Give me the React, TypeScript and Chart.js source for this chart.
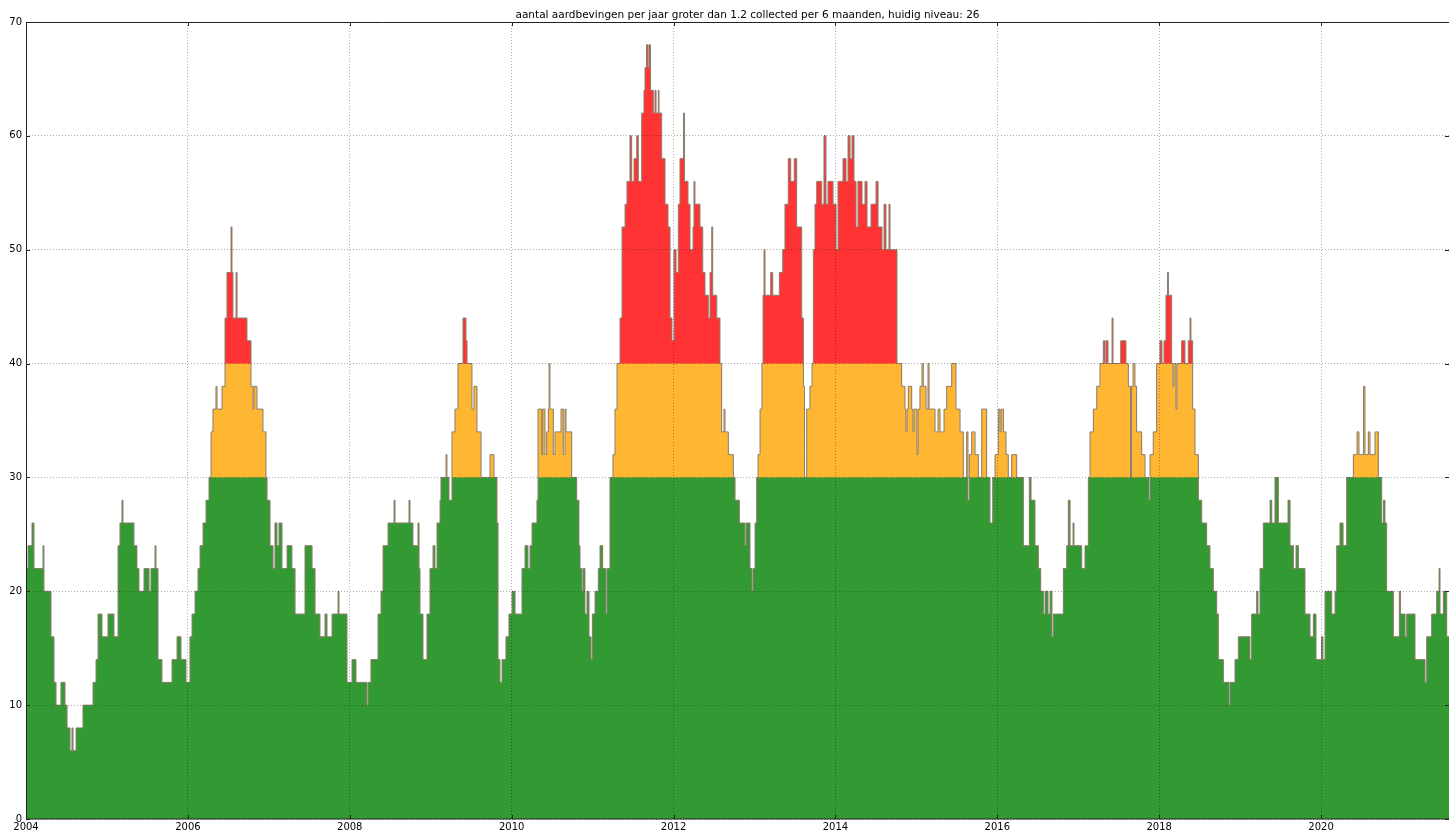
import React, { useEffect, useRef } from 'react';
import { Chart, registerables } from 'chart.js';

Chart.register(...registerables);

const TITLE = 'aantal aardbevingen per jaar groter dan 1.2 collected per 6 maanden, huidig niveau: 26';
const X_MIN = 2004;
const X_MAX = 2021.581;
const Y_MIN = 0;
const Y_MAX = 70;
const xTickValues = [2004, 2006, 2008, 2010, 2012, 2014, 2016, 2018, 2020];
const yTickValues = [0, 10, 20, 30, 40, 50, 60, 70];
const ORANGE_FROM = 30;
const RED_FROM = 40;

// step start dates (decimal years) and counts per year, 2004 - 2007
const datesA = [
  2004.000, 2004.025, 2004.074, 2004.099, 2004.210, 2004.222, 2004.309, 2004.346, 2004.371, 2004.432,
  2004.482, 2004.507, 2004.544, 2004.568, 2004.581, 2004.618, 2004.704, 2004.828, 2004.865, 2004.890,
  2004.939, 2005.013, 2005.087, 2005.137, 2005.161, 2005.186, 2005.198, 2005.334, 2005.371, 2005.396,
  2005.458, 2005.520, 2005.544, 2005.594, 2005.606, 2005.631, 2005.680, 2005.804, 2005.866, 2005.915,
  2005.977, 2006.026, 2006.051, 2006.088, 2006.125, 2006.150, 2006.187, 2006.224, 2006.261, 2006.286,
  2006.310, 2006.347, 2006.360, 2006.422, 2006.459, 2006.483, 2006.533, 2006.545, 2006.557, 2006.595,
  2006.607, 2006.730, 2006.780, 2006.805, 2006.817, 2006.854, 2006.928, 2006.965, 2006.978, 2007.015,
  2007.052, 2007.076, 2007.101, 2007.126, 2007.163, 2007.225, 2007.286, 2007.324, 2007.447, 2007.534,
  2007.571, 2007.632, 2007.694, 2007.719, 2007.781, 2007.855, 2007.867,
];
const countsA = [
  22, 24, 26, 22, 24, 20, 16, 12, 10, 12,
  10, 8, 6, 8, 6, 8, 10, 12, 14, 18,
  16, 18, 16, 24, 26, 28, 26, 24, 22, 20,
  22, 20, 22, 24, 22, 14, 12, 14, 16, 14,
  12, 16, 18, 20, 22, 24, 26, 28, 30, 34,
  36, 38, 36, 38, 44, 48, 52, 48, 44, 48,
  44, 42, 38, 36, 38, 36, 34, 30, 28, 24,
  22, 26, 24, 26, 22, 24, 22, 18, 24, 22,
  18, 16, 18, 16, 18, 20, 18,
];

// 2008 - 2011
const datesB = [
  2007.966, 2008.028, 2008.077, 2008.213, 2008.225, 2008.262, 2008.349, 2008.386, 2008.411, 2008.473,
  2008.547, 2008.559, 2008.732, 2008.744, 2008.781, 2008.843, 2008.856, 2008.868, 2008.905, 2008.954,
  2008.991, 2009.029, 2009.053, 2009.078, 2009.115, 2009.127, 2009.189, 2009.201, 2009.226, 2009.263,
  2009.300, 2009.337, 2009.399, 2009.436, 2009.449, 2009.510, 2009.535, 2009.572, 2009.622, 2009.733,
  2009.782, 2009.819, 2009.832, 2009.856, 2009.881, 2009.930, 2009.967, 2010.005, 2010.042, 2010.128,
  2010.165, 2010.202, 2010.227, 2010.252, 2010.313, 2010.326, 2010.372, 2010.384, 2010.412, 2010.433,
  2010.453, 2010.462, 2010.474, 2010.515, 2010.536, 2010.610, 2010.638, 2010.659, 2010.672, 2010.742,
  2010.804, 2010.832, 2010.845, 2010.869, 2010.882, 2010.906, 2010.931, 2010.956, 2010.981, 2010.997,
  2011.030, 2011.071, 2011.092, 2011.125, 2011.166, 2011.178, 2011.215, 2011.252, 2011.277, 2011.302,
  2011.339, 2011.364, 2011.401, 2011.425, 2011.462, 2011.483, 2011.512, 2011.545, 2011.565, 2011.607,
  2011.635, 2011.648, 2011.666, 2011.685, 2011.697, 2011.716, 2011.750, 2011.771, 2011.784, 2011.812,
  2011.821, 2011.854, 2011.895, 2011.932, 2011.957, 2011.981,
];
const countsB = [
  12, 14, 12, 10, 12, 14, 18, 20, 24, 26,
  28, 26, 28, 26, 24, 26, 22, 18, 14, 18,
  22, 24, 22, 26, 28, 30, 32, 30, 28, 34,
  36, 40, 44, 42, 40, 36, 38, 34, 30, 32,
  30, 26, 14, 12, 14, 16, 18, 20, 18, 22,
  24, 22, 24, 26, 28, 36, 32, 36, 32, 34,
  36, 40, 36, 32, 34, 36, 32, 36, 34, 30,
  28, 24, 22, 20, 22, 18, 20, 16, 14, 18,
  20, 22, 24, 22, 18, 22, 30, 32, 36, 40,
  44, 52, 54, 56, 60, 56, 58, 60, 56, 62,
  64, 66, 68, 66, 68, 64, 62, 64, 62, 64,
  62, 58, 54, 52, 44, 42,
];

// 2012 - 2016
const datesC = [
  2012.006, 2012.031, 2012.059, 2012.080, 2012.123, 2012.136, 2012.179, 2012.204, 2012.241, 2012.253,
  2012.265, 2012.327, 2012.361, 2012.389, 2012.430, 2012.451, 2012.472, 2012.484, 2012.534, 2012.574,
  2012.595, 2012.624, 2012.636, 2012.677, 2012.739, 2012.760, 2012.813, 2012.883, 2012.896, 2012.945,
  2012.970, 2012.982, 2013.007, 2013.028, 2013.044, 2013.069, 2013.093, 2013.106, 2013.118, 2013.130,
  2013.201, 2013.226, 2013.307, 2013.349, 2013.377, 2013.418, 2013.448, 2013.492, 2013.522, 2013.584,
  2013.604, 2013.618, 2013.646, 2013.686, 2013.711, 2013.727, 2013.748, 2013.769, 2013.831, 2013.859,
  2013.884, 2013.909, 2013.971, 2014.008, 2014.032, 2014.094, 2014.131, 2014.156, 2014.181, 2014.205,
  2014.230, 2014.255, 2014.279, 2014.329, 2014.366, 2014.391, 2014.440, 2014.502, 2014.527, 2014.576,
  2014.601, 2014.625, 2014.662, 2014.675, 2014.761, 2014.819, 2014.860, 2014.872, 2014.885, 2014.901,
  2014.943, 2014.959, 2014.971, 2015.008, 2015.021, 2015.045, 2015.070, 2015.086, 2015.120, 2015.144,
  2015.157, 2015.231, 2015.268, 2015.293, 2015.342, 2015.375, 2015.437, 2015.490, 2015.540, 2015.580,
  2015.622, 2015.638, 2015.654, 2015.684, 2015.725, 2015.766, 2015.808, 2015.869, 2015.910, 2015.944,
  2015.972, 2016.013, 2016.034, 2016.046, 2016.075, 2016.108, 2016.136, 2016.178, 2016.240,
];
const countsC = [
  50, 48, 54, 58, 62, 56, 54, 50, 52, 56,
  54, 52, 48, 46, 44, 48, 52, 46, 44, 40,
  34, 36, 34, 32, 30, 28, 26, 24, 26, 22,
  20, 22, 26, 30, 32, 36, 40, 46, 50, 46,
  48, 46, 48, 50, 54, 58, 56, 58, 52, 44,
  38, 30, 36, 38, 40, 50, 54, 56, 54, 60,
  54, 56, 54, 50, 56, 58, 56, 60, 58, 60,
  56, 52, 56, 54, 56, 52, 54, 56, 52, 50,
  54, 50, 54, 50, 40, 38, 36, 34, 36, 38,
  36, 34, 36, 32, 36, 38, 40, 38, 36, 40,
  36, 34, 36, 34, 36, 38, 40, 36, 34, 30,
  34, 28, 32, 34, 32, 30, 36, 30, 26, 30,
  32, 36, 34, 36, 34, 32, 30, 32, 30,
];

// 2016 - 2021
const datesD = [
  2016.322, 2016.396, 2016.417, 2016.466, 2016.507, 2016.537, 2016.569, 2016.590, 2016.627, 2016.652,
  2016.676, 2016.692, 2016.816, 2016.858, 2016.878, 2016.899, 2016.936, 2016.948, 2017.043, 2017.084,
  2017.125, 2017.146, 2017.187, 2017.229, 2017.269, 2017.310, 2017.331, 2017.343, 2017.368, 2017.418,
  2017.430, 2017.525, 2017.590, 2017.619, 2017.646, 2017.658, 2017.677, 2017.701, 2017.722, 2017.784,
  2017.825, 2017.874, 2017.887, 2017.927, 2017.969, 2018.010, 2018.035, 2018.060, 2018.084, 2018.103,
  2018.115, 2018.155, 2018.171, 2018.183, 2018.208, 2018.220, 2018.278, 2018.319, 2018.360, 2018.381,
  2018.393, 2018.414, 2018.443, 2018.484, 2018.526, 2018.587, 2018.628, 2018.669, 2018.711, 2018.731,
  2018.793, 2018.863, 2018.875, 2018.937, 2018.978, 2019.122, 2019.143, 2019.205, 2019.221, 2019.246,
  2019.287, 2019.370, 2019.391, 2019.431, 2019.472, 2019.592, 2019.617, 2019.658, 2019.691, 2019.719,
  2019.802, 2019.864, 2019.905, 2019.938, 2020.006, 2020.024, 2020.049, 2020.132, 2020.173, 2020.194,
  2020.234, 2020.272, 2020.317, 2020.399, 2020.445, 2020.469, 2020.525, 2020.543, 2020.584, 2020.605,
  2020.667, 2020.708, 2020.750, 2020.772, 2020.790, 2020.811, 2020.893, 2020.967, 2020.982, 2021.038,
  2021.059, 2021.161, 2021.285, 2021.306, 2021.367, 2021.429, 2021.458, 2021.470, 2021.511, 2021.553, 2021.581,
];
const countsD = [
  24, 30, 28, 24, 22, 20, 18, 20, 18, 20,
  16, 18, 22, 24, 28, 24, 26, 24, 22, 24,
  30, 34, 36, 38, 40, 42, 40, 42, 40, 44,
  40, 42, 40, 38, 30, 38, 40, 38, 34, 32,
  30, 28, 32, 34, 40, 42, 40, 42, 46, 48,
  46, 40, 38, 40, 36, 40, 42, 40, 42, 44,
  42, 36, 32, 28, 26, 24, 22, 20, 18, 14,
  12, 10, 12, 14, 16, 14, 18, 20, 18, 22,
  26, 28, 26, 30, 26, 28, 24, 22, 24, 22,
  18, 16, 18, 14, 16, 14, 20, 18, 20, 24,
  26, 24, 30, 32, 34, 32, 38, 32, 34, 32,
  34, 30, 26, 28, 26, 20, 16, 20, 18, 16,
  18, 14, 12, 16, 18, 20, 22, 18, 20, 16, 16,
];

const dates = [...datesA, ...datesB, ...datesC, ...datesD];
const counts = [...countsA, ...countsB, ...countsC, ...countsD];

const GREEN = '#339933';
const ORANGE = '#ffb733';
const RED = '#ff3333';
const LINE = '#8a8070';
const GRID = 'rgba(0,0,0,0.32)';
const FONT = "'DejaVu Sans', 'Liberation Sans', sans-serif";

const capped = (limit: number) => dates.map((x, i) => ({ x, y: Math.min(counts[i], limit) }));

export default function App() {
  const ref = useRef<HTMLCanvasElement>(null);

  useEffect(() => {
    const canvas = ref.current;
    if (!canvas) return;

    const full = dates.map((x, i) => ({ x, y: counts[i] }));

    const framePlugin = {
      id: 'frameAndTitle',
      afterDraw(chart: any) {
        const { ctx, chartArea } = chart;
        const { left, right, top, bottom } = chartArea;
        const xs = chart.scales.x;
        const ys = chart.scales.y;
        ctx.save();
        ctx.strokeStyle = '#222';
        ctx.lineWidth = 1;
        ctx.beginPath();
        ctx.rect(left + 0.5, top + 0.5, right - left, bottom - top - 0.5);
        ctx.stroke();
        ctx.beginPath();
        xTickValues.forEach((v) => {
          const px = Math.round(xs.getPixelForValue(v)) + 0.5;
          ctx.moveTo(px, bottom);
          ctx.lineTo(px, bottom - 4);
          ctx.moveTo(px, top);
          ctx.lineTo(px, top + 4);
        });
        yTickValues.forEach((v) => {
          const py = Math.round(ys.getPixelForValue(v)) + 0.5;
          ctx.moveTo(left, py);
          ctx.lineTo(left + 4, py);
          ctx.moveTo(right, py);
          ctx.lineTo(right - 4, py);
        });
        ctx.stroke();
        ctx.fillStyle = '#000';
        ctx.font = `10.5px ${FONT}`;
        ctx.textAlign = 'center';
        ctx.textBaseline = 'alphabetic';
        ctx.fillText(TITLE, (left + right) / 2 + 10, top - 4);
        ctx.restore();
      },
    };

    const fillSet = (data: any[], color: string, order: number) => ({
      data,
      order,
      backgroundColor: color,
      borderColor: 'rgba(0,0,0,0)',
      borderWidth: 0,
      fill: 'origin',
      stepped: true,
      pointRadius: 0,
      pointHoverRadius: 0,
    });

    const chart = new Chart(canvas, {
      type: 'line',
      data: {
        datasets: [
          {
            data: full,
            order: 0,
            borderColor: LINE,
            borderWidth: 1,
            fill: false,
            stepped: true,
            pointRadius: 0,
            pointHoverRadius: 0,
          } as any,
          fillSet(capped(ORANGE_FROM), GREEN, 1) as any,
          fillSet(capped(RED_FROM), ORANGE, 2) as any,
          fillSet(full, RED, 3) as any,
        ],
      },
      options: {
        animation: false,
        responsive: false,
        maintainAspectRatio: false,
        devicePixelRatio: 1,
        events: [],
        layout: { padding: { top: 22, right: 0, bottom: 0, left: 0 } },
        plugins: {
          legend: { display: false },
          tooltip: { enabled: false },
          title: { display: false },
        },
        scales: {
          x: {
            type: 'linear',
            min: X_MIN,
            max: X_MAX,
            afterBuildTicks: (s: any) => {
              s.ticks = xTickValues.map((v) => ({ value: v }));
            },
            afterFit: (s: any) => {
              s.height = 13;
            },
            ticks: {
              callback: (v: any) => String(v),
              maxRotation: 0,
              autoSkip: false,
              padding: 2,
              color: '#000',
              font: { family: FONT, size: 10 },
            },
            grid: { color: GRID, lineWidth: 1, drawTicks: false, z: 1 },
            border: { display: false, dash: [1, 2] },
          },
          y: {
            type: 'linear',
            min: Y_MIN,
            max: Y_MAX,
            afterBuildTicks: (s: any) => {
              s.ticks = yTickValues.map((v) => ({ value: v }));
            },
            afterFit: (s: any) => {
              s.width = 26;
            },
            ticks: {
              callback: (v: any) => String(v),
              padding: 4,
              color: '#000',
              font: { family: FONT, size: 10 },
            },
            grid: { color: GRID, lineWidth: 1, drawTicks: false, z: 1 },
            border: { display: false, dash: [1, 2] },
          },
        },
      } as any,
      plugins: [framePlugin],
    });

    return () => chart.destroy();
  }, []);

  return (
    <div style={{ position: 'absolute', left: 0, top: 0, width: 1449, height: 832, background: '#fff' }}>
      <canvas ref={ref} width={1449} height={832} style={{ display: 'block', width: 1449, height: 832 }} />
    </div>
  );
}
